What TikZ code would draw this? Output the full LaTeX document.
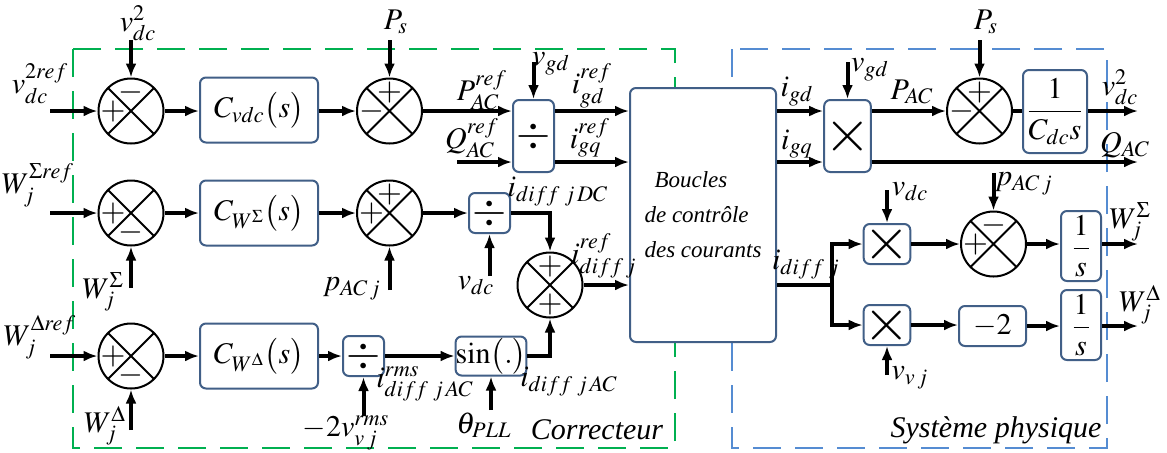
\documentclass[tikz,border=0pt]{standalone}
\usepackage{mathptmx}
\usepackage{fontspec}
\setmainfont{Liberation Serif}
\newfontfamily\itser{Liberation Serif Italic}
\usetikzlibrary{arrows.meta,calc}
\definecolor{boxc}{RGB}{65,95,135}
\definecolor{grn}{RGB}{0,176,80}
\definecolor{blu}{RGB}{85,140,210}
\begin{document}
\begin{tikzpicture}[x=0.5pt,y=-0.5pt,font=\fontsize{15}{18}\selectfont,
  sumc/.style={circle,draw,line width=1pt,minimum size=32.5pt,inner sep=0pt,fill=white,
    path picture={\draw[line width=1pt] (path picture bounding box.north west)--(path picture bounding box.south east)
      (path picture bounding box.north east)--(path picture bounding box.south west);}},
  blk/.style={draw=boxc,line width=1pt,rounded corners=3pt,fill=white,inner sep=0pt},
  arr/.style={line width=2pt,-{Latex[length=7pt,width=5.5pt]}},
  ln/.style={line width=2pt},
  lbl/.style={inner sep=0pt},
  sgn/.style={inner sep=0pt,font=\fontsize{16}{16}\selectfont},
  big/.style={minimum width=59pt,minimum height=32.5pt},
  ttl/.style={inner sep=0pt,font=\fontsize{15}{18}\itser},
  bigx/.style={font=\fontsize{30}{30}\selectfont},
  divf/.style={font=\fontsize{22}{22}\selectfont}]
\fill[white] (0,0) rectangle (1167,452);
\useasboundingbox (0,0) rectangle (1167,452);
% frames
\draw[grn,line width=0.9pt,dash pattern=on 14pt off 7pt] (73,49) rectangle (675,448);
\draw[blu,line width=0.9pt,dash pattern=on 14pt off 7pt] (732,49) rectangle (1107,448);

% ---------- Row 1 ----------
\coordinate (in1) at (50,111);
\node[lbl] (l_vdcref) at (40,84) {$v_{dc}^{2ref}$};
\node[sumc] (c1) at (131,111) {};
\node[sgn] (c1t) at ($(c1)+(0,-19)$) {$-$};
\node[sgn] (c1l) at ($(c1)+(-18,0)$) {$+$};
\node[lbl] (l_vdc2) at (138,23) {$v_{dc}^{2}$};
\coordinate (t_vdc2) at (131,40);
\draw[arr] (in1) -- (c1.west);
\draw[arr] (t_vdc2) -- (c1.north);
\node[blk,big] (cvdc) at (259,110) {$C_{vdc}\bigl(s\bigr)$};
\draw[arr] (c1.east) -- (c1.east -| cvdc.west);
\node[sumc] (c2) at (389.5,111) {};
\node[sgn] (c2t) at ($(c2)+(0,-19)$) {$+$};
\node[sgn] (c2l) at ($(c2)+(-18,0)$) {$-$};
\node[lbl] (l_ps1) at (396,22) {$P_s$};
\coordinate (t_ps1) at (389.5,40);
\draw[arr] (t_ps1) -- (c2.north);
\draw[arr] (cvdc.east |- c2) -- (c2.west);
\node[blk,minimum width=20.5pt,minimum height=36pt,divf] (div1) at (533.5,136) {$\div$};
\draw[arr] (c2.east) -- (c2.east -| div1.west);
\node[lbl] (l_pacref) at (482,90) {$P_{AC}^{ref}$};
\coordinate (t_vgd1) at (533.5,62);
\draw[arr] (t_vgd1) -- (div1.north);
\node[lbl] (l_vgd1) at (551,64) {$v_{gd}$};
\coordinate (in_q) at (457,162);
\draw[arr] (in_q) -- (in_q -| div1.west);
\node[lbl] (l_qacref) at (472,138) {$Q_{AC}^{ref}$};
\node[blk,minimum width=73pt,minimum height=127pt,align=left,
      font=\fontsize{11.5}{17.5}\itser] (bcc) at (703,215)
      {\hspace*{5pt}Boucles\\de contrôle\\des courants};
\draw[arr] (div1.east |- c2) -- (bcc.west |- c2);
\draw[arr] (div1.east |- in_q) -- (bcc.west |- in_q);
\node[lbl] (l_igdref) at (592,86) {$i_{gd}^{ref}$};
\node[lbl] (l_igqref) at (590,138) {$i_{gq}^{ref}$};

% ---------- Row 2 ----------
\coordinate (in2) at (50,213);
\node[lbl] (l_wsref) at (38,185) {$W_j^{\Sigma ref}$};
\node[sumc] (c3) at (131,213) {};
\node[sgn] (c3l) at ($(c3)+(-18,0)$) {$+$};
\node[sgn] (c3b) at ($(c3)+(0,19)$) {$-$};
\draw[arr] (in2) -- (c3.west);
\coordinate (b_ws) at (131,288);
\draw[arr] (b_ws) -- (c3.south);
\node[lbl] (l_ws) at (103,292) {$W_j^{\Sigma}$};
\node[blk,big] (cws) at (259,213) {$C_{W^{\Sigma}}\bigl(s\bigr)$};
\draw[arr] (c3.east) -- (c3.east -| cws.west);
\node[sumc] (c4) at (389.5,213) {};
\node[sgn] (c4t) at ($(c4)+(0,-19)$) {$+$};
\node[sgn] (c4l) at ($(c4)+(-18,0)$) {$+$};
\draw[arr] (cws.east |- c4) -- (c4.west);
\coordinate (b_pac) at (389.5,290);
\draw[arr] (b_pac) -- (c4.south);
\node[lbl] (l_pac) at (352,289) {$p_{AC\,j}$};
\node[blk,minimum width=20.5pt,minimum height=20pt,divf] (div2) at (489.5,213) {$\div$};
\draw[arr] (c4.east) -- (div2.west);
\coordinate (b_vdc1) at (489.5,276);
\draw[arr] (b_vdc1) -- (div2.south);
\node[lbl] (l_vdc1) at (476,286) {$v_{dc}$};
\node[lbl] (l_idc) at (558,192) {$i_{diff\;j\,DC}$};
\node[sumc] (c5) at (550,285) {};
\node[sgn] (c5t) at ($(c5)+(0,-19)$) {$+$};
\node[sgn] (c5b) at ($(c5)+(0,19)$) {$+$};
\draw[arr] (div2.east) -| (c5.north);
\node[lbl] (l_idiffref) at (604,256) {$i_{diff\,j}^{ref}$};
\draw[arr] (c5.east) -- (c5.east -| bcc.west);

% ---------- Row 3 ----------
\coordinate (in3) at (50,356);
\node[lbl] (l_wdref) at (40,337) {$W_j^{\Delta ref}$};
\node[sumc] (c6) at (131,356) {};
\node[sgn] (c6l) at ($(c6)+(-18,0)$) {$+$};
\node[sgn] (c6b) at ($(c6)+(0,19)$) {$-$};
\draw[arr] (in3) -- (c6.west);
\coordinate (b_wd) at (131,430);
\draw[arr] (b_wd) -- (c6.south);
\node[lbl] (l_wd) at (105,426) {$W_j^{\Delta}$};
\node[blk,big] (cwd) at (259,356) {$C_{W^{\Delta}}\bigl(s\bigr)$};
\draw[arr] (c6.east) -- (c6.east -| cwd.west);
\node[blk,minimum width=20.5pt,minimum height=20pt,divf] (div3) at (363.5,356) {$\div$};
\draw[arr] (cwd.east |- div3) -- (div3.west);
\coordinate (b_vvj) at (363.5,416);
\draw[arr] (b_vvj) -- (div3.south);
\node[lbl] (l_vvjrms) at (346,433) {$-2v_{v\,j}^{rms}$};
\node[blk,minimum width=33pt,minimum height=19.5pt] (sinb) at (491,356) {$\sin\bigl(.\bigr)$};
\draw[arr] (div3.east) -- (sinb.west);
\node[lbl] (l_irms) at (425,384) {$i_{diff\;j\,AC}^{rms}$};
\coordinate (b_th) at (491,410);
\draw[arr] (b_th) -- (sinb.south);
\node[lbl] (l_th) at (484,425) {$\theta_{PLL}$};
\draw[arr] (sinb.east) -| (c5.south);
\node[lbl] (l_iac) at (569,382) {$i_{diff\;j\,AC}$};
\node[ttl] (t_corr) at (597,430) {Correcteur};

% ---------- Right part ----------
\node[blk,minimum width=20.5pt,minimum height=36pt,bigx] (mul1) at (847.5,136) {$\times$};
\node[sumc] (c7) at (979.5,111) {};
\node[sgn] (c7t) at ($(c7)+(0,-19)$) {$+$};
\node[sgn] (c7l) at ($(c7)+(-18,0)$) {$-$};
\draw[arr] (bcc.east |- c7) -- (mul1.west |- c7);
\draw[arr] (bcc.east |- in_q) -- (mul1.west |- in_q);
\node[lbl] (l_igd) at (797,92) {$i_{gd}$};
\node[lbl] (l_igq) at (797,144) {$i_{gq}$};
\coordinate (t_vgd2) at (847.5,62);
\draw[arr] (t_vgd2) -- (mul1.north);
\node[lbl] (l_vgd2) at (870,70) {$v_{gd}$};
\draw[arr] (mul1.east |- c7) -- (c7.west);
\node[lbl] (l_pac2) at (912,92) {$P_{AC}$};
\coordinate (t_ps2) at (979.5,40);
\draw[arr] (t_ps2) -- (c7.north);
\node[lbl] (l_ps2) at (986,22) {$P_s$};
\node[blk,minimum width=32pt,minimum height=41.5pt] (cds) at (1055,111.5) {$\displaystyle\frac{1}{C_{dc}s}$};
\draw[ln] (c7.east) -- (c7.east -| cds.west);
\coordinate (o_vdc) at (1138,111);
\draw[arr] (cds.east |- o_vdc) -- (o_vdc);
\node[lbl] (l_vdco) at (1120,87) {$v_{dc}^{2}$};
\coordinate (o_q) at (1138,162);
\draw[arr] (mul1.east |- o_q) -- (o_q);
\node[lbl] (l_qac) at (1125,145) {$Q_{AC}$};

\coordinate (br) at (832,285);
\draw[ln] (bcc.east |- c5) -- (br);
\node[blk,minimum width=20pt,minimum height=20pt,bigx] (mul2) at (887,244) {$\times$};
\node[blk,minimum width=20pt,minimum height=20pt,bigx] (mul3) at (887,325) {$\times$};
\draw[arr] (br) |- (mul2.west);
\draw[arr] (br) |- (mul3.west);
\node[lbl] (l_idiff) at (806,265) {$i_{diff\;j}$};
\coordinate (t_vdc3) at (887,190);
\draw[arr] (t_vdc3) -- (mul2.north);
\node[lbl] (l_vdc3) at (910,192) {$v_{dc}$};
\node[sumc] (c8) at (993.5,244) {};
\node[sgn] (c8t) at ($(c8)+(0,-19)$) {$-$};
\node[sgn] (c8l) at ($(c8)+(-18,0)$) {$+$};
\draw[arr] (mul2.east) -- (c8.west);
\coordinate (t_pac2) at (993.5,173);
\draw[arr] (t_pac2) -- (c8.north);
\node[lbl] (l_pac3) at (1024,184) {$p_{AC\,j}$};
\node[blk,minimum width=20pt,minimum height=35pt] (s1) at (1081,246) {$\displaystyle\frac{1}{s}$};
\draw[arr] (c8.east) -- (c8.east -| s1.west);
\coordinate (o_ws) at (1138,244);
\draw[arr] (s1.east |- o_ws) -- (o_ws);
\node[lbl] (l_wso) at (1130,222) {$W_j^{\Sigma}$};
\node[blk,minimum width=33.5pt,minimum height=20pt] (m2) at (992.5,326) {$-2$};
\node[blk,minimum width=20pt,minimum height=35pt] (s2) at (1081,325) {$\displaystyle\frac{1}{s}$};
\draw[arr] (mul3.east) -- (mul3.east -| m2.west);
\draw[arr] (m2.east) -- (m2.east -| s2.west);
\coordinate (o_wd) at (1138,326);
\draw[arr] (s2.east |- o_wd) -- (o_wd);
\node[lbl] (l_wdo) at (1140,305) {$W_j^{\Delta}$};
\coordinate (b_vvj2) at (887,375);
\draw[arr] (b_vvj2) -- (mul3.south);
\node[lbl] (l_vvj) at (910,378) {$v_{v\,j}$};
\node[ttl] (t_sys) at (996,430) {Système physique};
\end{tikzpicture}
\end{document}
